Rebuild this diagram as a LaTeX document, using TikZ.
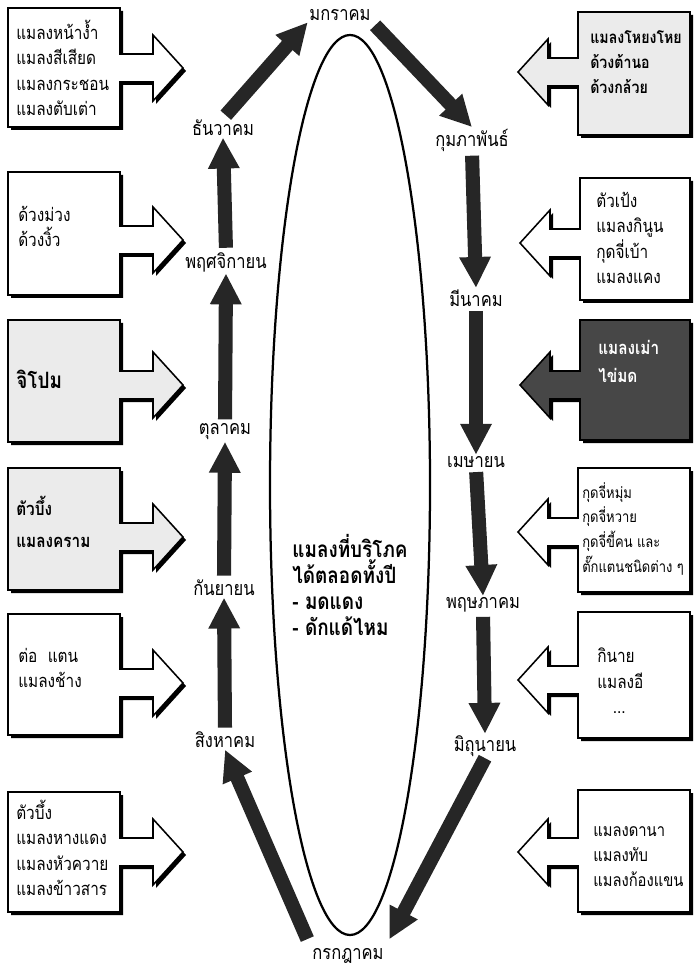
\documentclass[tikz,border=0pt]{standalone}
\usepackage{fontspec}
\newfontfamily\thai[Script=Thai,FakeStretch=0.84]{Loma}
\usetikzlibrary{arrows.meta}

% card outline: box with a tab pointing right (L) or left (R)
\newcommand{\cardL}[5]{(#1,#2) -- (#3,#2) -- (#3,{#5-14}) -- ({#3+33},{#5-14}) -- ({#3+33},{#5-33}) -- ({#3+63},#5) -- ({#3+33},{#5+33}) -- ({#3+33},{#5+14}) -- (#3,{#5+14}) -- (#3,#4) -- (#1,#4) -- cycle}
\newcommand{\cardR}[5]{(#3,#2) -- (#1,#2) -- (#1,{#5-14}) -- ({#1-30},{#5-14}) -- ({#1-30},{#5-33}) -- ({#1-60},#5) -- ({#1-30},{#5+33}) -- ({#1-30},{#5+14}) -- (#1,{#5+14}) -- (#1,#4) -- (#3,#4) -- cycle}

\tikzset{
  month/.style={font=\thai\fontsize{14}{16}\selectfont, inner sep=1pt},
  flow/.style={line width=10pt, draw=black!85, -{Triangle[width=21pt,length=22pt]}},
  card/.style={draw=black, line width=1.1pt, fill=white},
  speckle/.style={card, fill=black!8},
  darkcard/.style={card, fill=black!72},
  cardtext/.style={font=\thai\fontsize{13}{18}\selectfont, align=left, anchor=north west, inner sep=0pt},
}

\begin{document}
\begin{tikzpicture}[x=0.025cm,y=-0.025cm]
\useasboundingbox (0,0) rectangle (694,970);

% centre
\draw[line width=1.6pt] (350,485) ellipse [x radius=80, y radius=450];
\node (core) at (350,585) [font=\thai\bfseries\fontsize{16}{18.5}\selectfont, align=left] {แมลงที่บริโภค\\ได้ตลอดทั้งปี\\- มดแดง\\- ดักแด้ไหม};

% months
\node[month] (jan) at (340,15) {มกราคม};
\node[month] (feb) at (472,140) {กุมภาพันธ์};
\node[month] (mar) at (476,298) {มีนาคม};
\node[month] (apr) at (476,462) {เมษายน};
\node[month] (may) at (483,605) {พฤษภาคม};
\node[month] (jun) at (485,746) {มิถุนายน};
\node[month] (jul) at (348,956) {กรกฎาคม};
\node[month] (aug) at (225,740) {สิงหาคม};
\node[month] (sep) at (224,588) {กันยายน};
\node[month] (oct) at (225,432) {ตุลาคม};
\node[month] (nov) at (226,262) {พฤศจิกายน};
\node[month] (dec) at (223,128) {ธันวาคม};

% flow of the year
\draw[flow, shorten <=3pt] (dec.north) -- (jan.south west);
\draw[flow, shorten <=3pt] (jan.south east) -- (feb.north);
\draw[flow, shorten <=2pt] (feb.south) -- (mar.north);
\draw[flow, shorten <=2pt] (mar.south) -- (apr.north);
\draw[flow, shorten <=2pt] (apr.south) -- (may.north);
\draw[flow, shorten <=2pt] (may.south) -- (jun.north);
\draw[flow, shorten >=6pt] (jun.south) -- (jul.north east);
\draw[flow, shorten <=6pt] (jul.north west) -- (aug.south);
\draw[flow, shorten <=2pt] (aug.north) -- (sep.south);
\draw[flow, shorten <=2pt] (sep.north) -- (oct.south);
\draw[flow, shorten <=2pt] (oct.north) -- (nov.south);
\draw[flow, shorten <=2pt] (nov.north) -- (dec.south);

% left cards
\fill[shift={(3,3)}] \cardL{8}{8}{120}{127}{68};
\draw[card] \cardL{8}{8}{120}{127}{68};
\node[cardtext] (l1) at (16,20) {แมลงหน้าง้ำ\\แมลงสีเสียด\\แมลงกระชอน\\แมลงตับเต่า};

\fill[shift={(3,3)}] \cardL{8}{172}{120}{295}{240};
\draw[card] \cardL{8}{172}{120}{295}{240};
\node[cardtext] (l2) at (18,206) {ด้วงม่วง\\ด้วงงิ้ว};

\fill[shift={(3,3)}] \cardL{8}{320}{120}{442}{385};
\draw[speckle] \cardL{8}{320}{120}{442}{385};
\node[cardtext, font=\thai\bfseries\fontsize{16}{18}\selectfont] (l3) at (16,370) {จิโปม};

\fill[shift={(3,3)}] \cardL{8}{468}{120}{590}{537};
\draw[speckle] \cardL{8}{468}{120}{590}{537};
\node[cardtext, font=\thai\bfseries\fontsize{13}{23}\selectfont] (l4) at (16,496) {ตัวบึ้ง\\แมลงคราม};

\fill[shift={(3,3)}] \cardL{8}{614}{120}{735}{683};
\draw[card] \cardL{8}{614}{120}{735}{683};
\node[cardtext] (l5) at (18,648) {ต่อ\ \ แตน\\แมลงช้าง};

\fill[shift={(3,3)}] \cardL{8}{792}{120}{912}{852};
\draw[card] \cardL{8}{792}{120}{912}{852};
\node[cardtext] (l6) at (16,800) {ตัวบึ้ง\\แมลงหางแดง\\แมลงหัวควาย\\แมลงข้าวสาร};

% right cards
\fill[shift={(3,3)}] \cardR{578}{12}{690}{135}{72};
\draw[speckle] \cardR{578}{12}{690}{135}{72};
\node[cardtext, font=\thai\bfseries\fontsize{12}{18}\selectfont] (r1) at (590,30) {แมลงโหยงโหย\\ด้วงต้านอ\\ด้วงกล้วย};

\fill[shift={(3,3)}] \cardR{580}{178}{690}{300}{243};
\draw[card] \cardR{580}{178}{690}{300}{243};
\node[cardtext] (r2) at (596,192) {ตัวเป้ง\\แมลงกินูน\\กุดจี่เบ้า\\แมลงแคง};

\fill[shift={(3,3)}] \cardR{580}{320}{690}{440}{385};
\draw[darkcard] \cardR{580}{320}{690}{440}{385};
\node[cardtext, text=white, font=\thai\bfseries\fontsize{13}{20}\selectfont] (r3) at (598,340) {แมลงเม่า\\ไข่มด};

\fill[shift={(3,3)}] \cardR{578}{468}{690}{592}{532};
\draw[card] \cardR{578}{468}{690}{592}{532};
\node[cardtext, font=\thai\fontsize{11}{17.5}\selectfont] (r4) at (582,482) {กุดจี่หมุ่ม\\กุดจี่หวาย\\กุดจี่ขี้คน และ\\ตั๊กแตนชนิดต่าง ๆ};

\fill[shift={(3,3)}] \cardR{578}{612}{690}{738}{680};
\draw[card] \cardR{578}{612}{690}{738}{680};
\node[cardtext] (r5) at (597,648) {กินาย\\แมลงอี\\\ \ \ ...};

\fill[shift={(3,3)}] \cardR{578}{790}{690}{912}{852};
\draw[card] \cardR{578}{790}{690}{912}{852};
\node[cardtext, font=\thai\fontsize{12.5}{18}\selectfont] (r6) at (593,826) {แมลงดานา\\แมลงทับ\\แมลงก้องแขน};
\end{tikzpicture}
\end{document}
